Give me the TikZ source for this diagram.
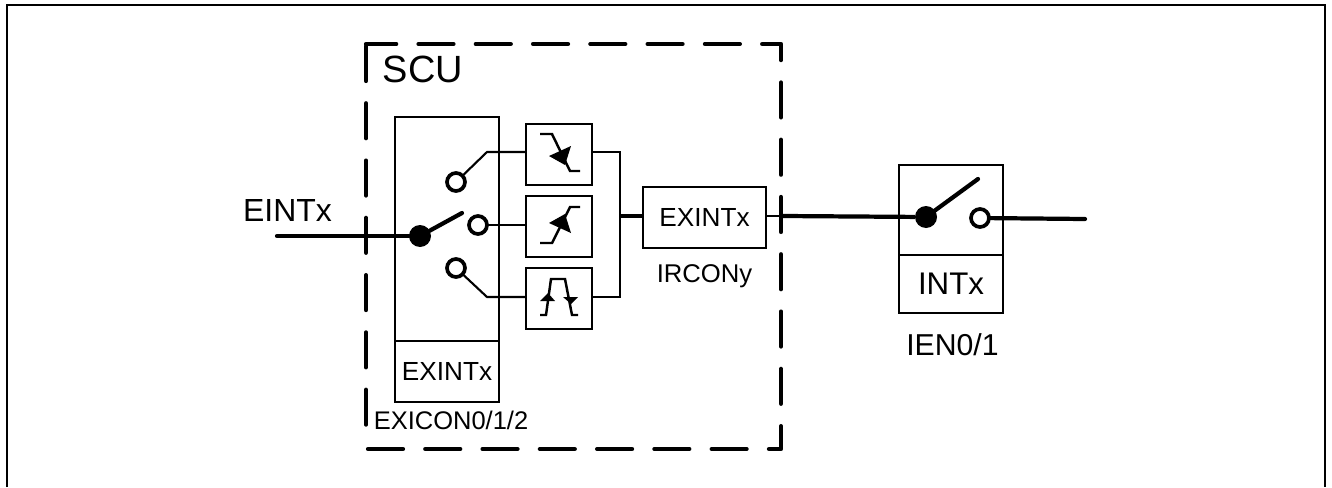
\documentclass[tikz,border=0pt]{standalone}
\usepackage{fontspec}
\setmainfont{Liberation Sans}
\tikzset{
  block/.style={draw,line width=1.2pt,inner sep=0pt,outer sep=0pt,text depth=0pt},
  thinline/.style={line width=1.2pt},
  glyph/.style={line width=1.4pt},
  signal/.style={line width=2.4pt,line cap=round},
  boundary/.style={line width=2.4pt,line cap=round,line join=round,dash pattern=on 19.9pt off 12.7pt},
  contact/.style={circle,draw,fill=white,line width=2.1pt,minimum size=0.36cm,inner sep=0pt,outer sep=0pt},
  pivot/.style={circle,fill=black,minimum size=0.44cm,inner sep=0pt,outer sep=0pt},
  tag/.style={inner sep=0pt,outer sep=0pt,text depth=0pt}
}
\begin{document}
\begin{tikzpicture}[x=0.02cm,y=-0.02cm]
\useasboundingbox (0,0) rectangle (1332,487);
% frame
\draw[line width=1pt] (7,487) -- (7,5) -- (1325,5) -- (1325,487);
% SCU boundary
\draw[boundary] (368,449) -- (781,449) -- (781,44) -- (366,44);
\draw[boundary] (366,46) -- (366,440);
\node[tag,font=\fontsize{21.6pt}{24pt}\selectfont] (scu) at (423,69){SCU};
% selector
\node[block,minimum width=2.08cm,minimum height=4.48cm] (sel) at (447,229){};
\node[block,minimum width=2.08cm,minimum height=1.22cm,font=\fontsize{14.9pt}{17pt}\selectfont] (selx) at (447,371.5){EXINTx};
\node[tag,font=\fontsize{14.5pt}{17pt}\selectfont] (exicon) at (451,420.5){EXICON0/1/2};
% edge filters
\node[block,minimum width=1.32cm,minimum height=1.22cm] (fall) at (559,154.5){};
\node[block,minimum width=1.32cm,minimum height=1.22cm] (rise) at (559,226.5){};
\node[block,minimum width=1.32cm,minimum height=1.22cm] (both) at (559,298.5){};
% flag
\node[block,minimum width=2.46cm,minimum height=1.22cm,font=\fontsize{14.9pt}{17pt}\selectfont] (flag) at (704.5,217.5){EXINTx};
\node[tag,font=\fontsize{14.6pt}{17pt}\selectfont] (ircon) at (704.5,274){IRCONy};
% enable
\node[block,minimum width=2.08cm,minimum height=1.80cm] (en) at (951,210){};
\node[block,minimum width=2.08cm,minimum height=1.16cm,font=\fontsize{17.8pt}{20pt}\selectfont] (enx) at (951,284){INTx};
\node[tag,font=\fontsize{17.2pt}{20pt}\selectfont] (ien) at (952.5,345){IEN0/1};
% input
\node[tag,font=\fontsize{18.2pt}{21pt}\selectfont] (eint) at (287.5,210){EINTx};
\coordinate (in) at (277,236);
\node[pivot] (dotA) at (420,236){};
\node[contact] (cTop) at (456,182){};
\node[contact] (cMid) at (478,225){};
\node[contact] (cBot) at (456,268){};
\coordinate (armA) at (462,213);
\draw[signal] (in) -- (dotA);
\draw[signal] (dotA) -- (armA);
\coordinate (kneeT) at (487,152);
\coordinate (kneeB) at (487,297);
\draw[thinline] (cTop) -- (kneeT) -- (fall.west |- kneeT);
\draw[thinline] (cMid) -- (rise.west |- cMid);
\draw[thinline] (cBot) -- (kneeB) -- (both.west |- kneeB);
% bus
\coordinate (busT) at (620,152);
\coordinate (busB) at (620,297);
\coordinate (busM) at (620,216);
\coordinate (busO) at (783,216);
\draw[thinline] (fall.east |- busT) -- (busT) -- (busB) -- (both.east |- busB);
\draw[signal,line cap=butt] (busM) -- (flag.west |- busM);
\draw[thinline] (flag.east |- busM) -- (busO);
% output switch
\node[pivot] (dotB) at (926,217){};
\node[contact] (cOut) at (980,218){};
\coordinate (armB) at (978,179);
\coordinate (out) at (1085,219);
\draw[signal,line cap=butt] (busO) -- (dotB);
\draw[signal] (dotB) -- (armB);
\draw[signal] (cOut) -- (out);
% top filter glyph
\draw[glyph] (540,134) -- (552,134) -- (570,171) -- (580,171);
\fill (549,156) -- (571,146) -- (565,165) -- cycle;
% middle filter glyph
\draw[glyph] (540,243) -- (552,243) -- (570,207) -- (580,207);
\fill (549,223) -- (571,233) -- (565,214) -- cycle;
% bottom filter glyph
\draw[glyph] (540,315) -- (546,315) -- (551,279) -- (565,279) -- (572,315) -- (578,315);
\fill (548,293) -- (540,301) -- (555,301) -- cycle;
\fill (571,304) -- (563,297) -- (578,297) -- cycle;
\end{tikzpicture}
\end{document}
